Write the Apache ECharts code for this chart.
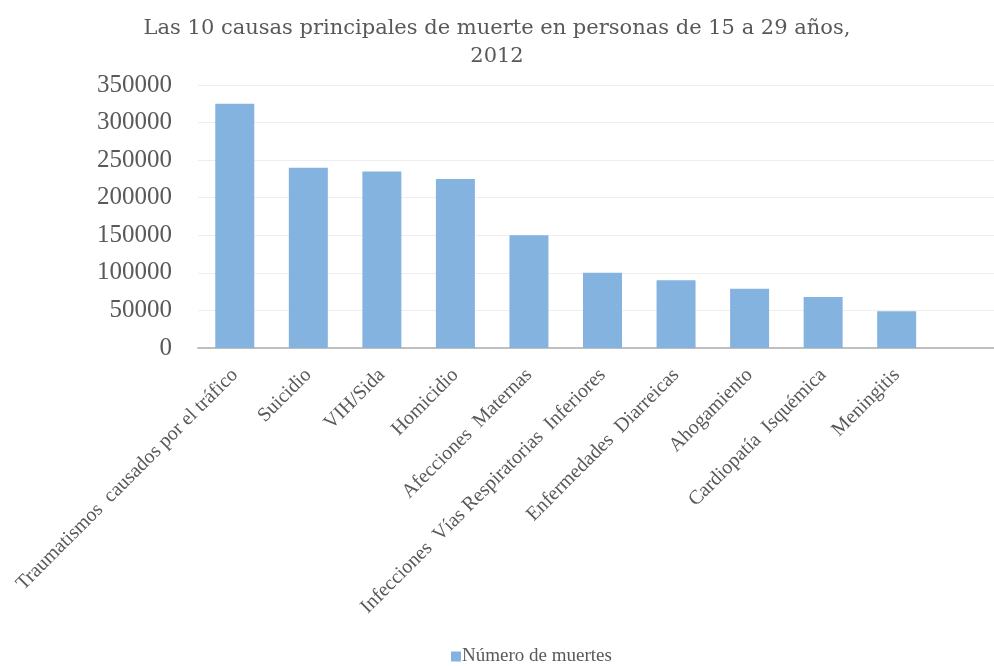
<!DOCTYPE html>
<html>
<head>
<meta charset="utf-8">
<script src="https://cdn.jsdelivr.net/npm/echarts@6/dist/echarts.min.js"></script>
<style>html,body{margin:0;padding:0;background:#fff}#c{width:994px;height:666px}</style>
</head>
<body>
<div id="c"></div>
<script>
const titleText = 'Las 10 causas principales de muerte en personas de 15 a 29 años,\n2012';
const seriesName = 'Número de muertes';
const categories = ['Traumatismos  causados por el tráfico', 'Suicidio', 'VIH/Sida', 'Homicidio', 'Afecciones  Maternas', 'Infecciones  Vías Respiratorias  Inferiores', 'Enfermedades  Diarreicas', 'Ahogamiento', 'Cardiopatía  Isquémica', 'Meningitis', ''];
const values = [325000, 240000, 235000, 225000, 150000, 100000, 90000, 79000, 68000, 49000, null];
const yTicks = { min: 0, max: 350000, interval: 50000 };

const serif = '"Liberation Serif", "DejaVu Serif", serif';
const chart = echarts.init(document.getElementById('c'));
chart.setOption({
  animation: false,
  title: {
    text: titleText, left: 'center', top: 10,
    textStyle: { fontFamily: '"DejaVu Serif", serif', fontSize: 21, fontWeight: 'normal', color: '#595959', lineHeight: 28 }
  },
  legend: {
    bottom: -5, left: 446, itemWidth: 10, itemHeight: 10, icon: 'rect', itemGap: 3,
    textStyle: { fontFamily: serif, fontSize: 19, color: '#595959', padding: [0, 0, 0, -4] }
  },
  grid: { left: 198, width: 809, top: 85, height: 263, outerBoundsMode: 'none' },
  xAxis: {
    type: 'category', data: categories,
    axisLine: { lineStyle: { color: '#bfbfbf', width: 2 } },
    axisTick: { show: false },
    axisLabel: { rotate: 45, interval: 0, fontFamily: serif, fontSize: 20, color: '#595959', margin: 24 }
  },
  yAxis: {
    type: 'value', min: yTicks.min, max: yTicks.max, interval: yTicks.interval,
    axisLine: { show: false }, axisTick: { show: false },
    splitLine: { lineStyle: { color: '#eeeeee', width: 1 } },
    axisLabel: { fontFamily: serif, fontSize: 25, color: '#595959', margin: 26, formatter: v => String(v) }
  },
  series: [{
    name: seriesName, type: 'bar', data: values, barWidth: 39,
    itemStyle: { color: '#85b3e0' }
  }]
});
</script>
</body>
</html>
